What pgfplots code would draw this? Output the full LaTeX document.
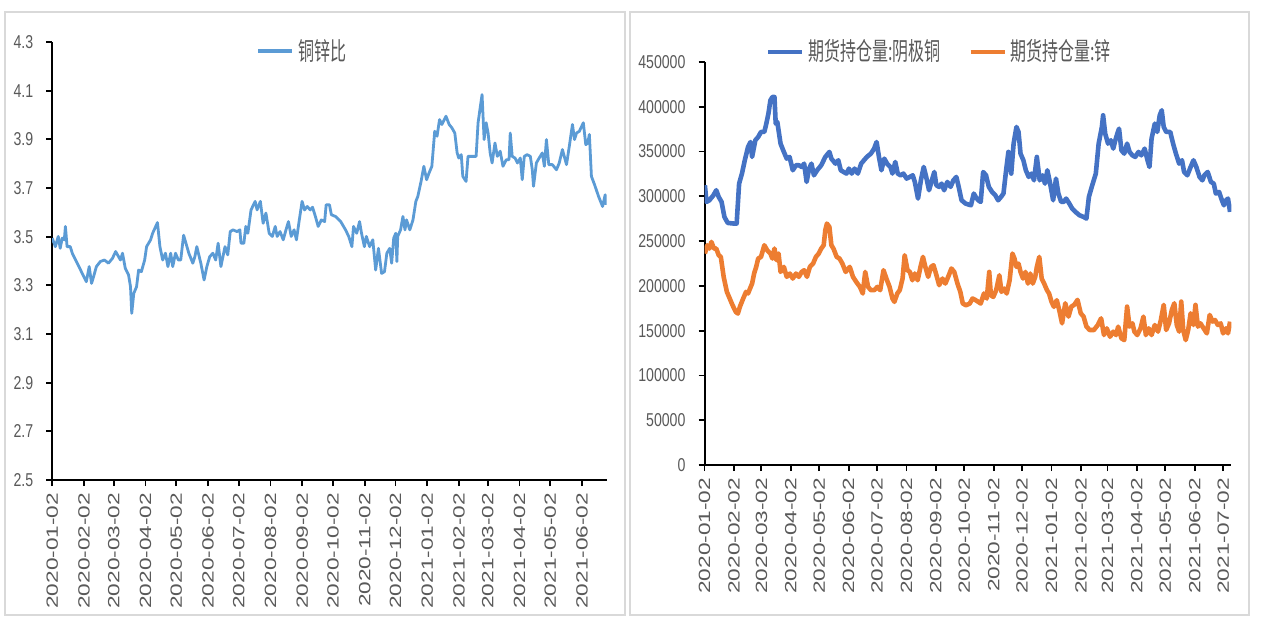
\documentclass[border=0pt]{standalone}
\usepackage{fontspec}
\setmainfont{Liberation Sans}
\newfontfamily\cjk{Noto Sans CJK SC}
\usepackage{graphicx}
\usepackage{pgfplots}
\pgfplotsset{compat=1.18}
\definecolor{cuzn}{HTML}{5B9BD5}
\definecolor{cu}{HTML}{4472C4}
\definecolor{zn}{HTML}{ED7D31}
\definecolor{lbl}{HTML}{595959}
\definecolor{panelframe}{HTML}{D9D9D9}
% the reference is squeezed sideways, so text is narrowed to match
\newcommand\xl[1]{\scalebox{1}[0.72]{#1}}
\newcommand\legtext[1]{\scalebox{0.64}[1]{\cjk #1}}

\pgfplotsset{
  panel/.style={
    scale only axis, anchor=south west,
    axis x line*=bottom, axis y line*=left,
    axis line style={-, black, line width=1bp},
    tick align=outside, major tick length=3bp,
    tick style={black, line width=0.9bp},
    x tick label style={rotate=90, anchor=east, font=\fontsize{11.3bp}{12bp}\selectfont, text=lbl},
    y tick label style={font=\fontsize{9.3bp}{10bp}\selectfont, text=lbl, xshift=-3bp},
    /pgf/number format/assume math mode=true,
    yticklabel={\scalebox{0.76}[1]{\pgfmathprintnumber{\tick}}},
    legend style={draw=none, fill=none, legend columns=-1, anchor=center,
      font=\fontsize{12.5bp}{13bp}\selectfont, text=lbl,
      /tikz/every even column/.append style={column sep=12bp}},
    legend image code/.code={\draw[#1, line width=2bp] (0,0) -- (17bp,0);},
  }
}

\begin{document}
\begin{tikzpicture}
\fill[white] (0,0) rectangle (634bp,313.5bp);
\draw[panelframe, line width=0.8bp] (2.5bp,6bp) rectangle (312.5bp,307.5bp);
\draw[panelframe, line width=0.8bp] (315bp,6bp) rectangle (624.5bp,307.5bp);

% left: copper / zinc ratio
\begin{axis}[panel,
    at={(26.1bp,73.5bp)}, width=277.25bp, height=219bp,
    xmin=0, xmax=541, ymin=2.5, ymax=4.3,
    ytick={2.5,2.7,...,4.31},
    yticklabel style={/pgf/number format/.cd, fixed, fixed zerofill, precision=1},
    xtick={0,31,60,91,121,152,182,213,244,274,305,335,366,397,425,456,486,517},
    xticklabels={\xl{2020-01-02},\xl{2020-02-02},\xl{2020-03-02},\xl{2020-04-02},\xl{2020-05-02},\xl{2020-06-02},\xl{2020-07-02},\xl{2020-08-02},\xl{2020-09-02},\xl{2020-10-02},\xl{2020-11-02},\xl{2020-12-02},\xl{2021-01-02},\xl{2021-02-02},\xl{2021-03-02},\xl{2021-04-02},\xl{2021-05-02},\xl{2021-06-02}},
    legend style={at={(0.453,0.979)}},
]
\addplot[cuzn, line width=1.4bp, line join=round] table {
0 3.494
3.1 3.459
5.9 3.501
7.8 3.452
9.8 3.494
11.8 3.487
12.9 3.542
14.5 3.459
17.6 3.459
19.6 3.432
33.3 3.315
36.1 3.377
38.4 3.308
40.4 3.336
43.1 3.377
47 3.398
51 3.404
54.9 3.391
58.8 3.411
61.9 3.439
66.6 3.404
68.6 3.432
71.3 3.370
74.5 3.343
76.4 3.294
77.6 3.185
79.6 3.267
82.3 3.294
84.3 3.363
87 3.356
90.2 3.404
92.1 3.459
96 3.487
98 3.514
102.7 3.558
105.1 3.459
107.8 3.404
110.5 3.432
112.9 3.377
115.6 3.432
117.6 3.377
120.3 3.432
123.1 3.404
125.4 3.404
128.2 3.506
130.5 3.473
133.3 3.432
137.2 3.391
139.2 3.418
141.1 3.459
145 3.391
148.2 3.322
150.9 3.377
153.7 3.418
156.8 3.432
159.5 3.404
161.9 3.473
164.6 3.377
168.6 3.459
171.3 3.425
173.7 3.521
176.4 3.528
180.3 3.521
183.1 3.528
184.2 3.473
187 3.473
188.9 3.542
190.9 3.514
194 3.610
198 3.645
199.9 3.610
203.1 3.645
205.8 3.555
208.5 3.597
211.7 3.514
214.8 3.501
217.6 3.542
219.5 3.501
222.3 3.521
225.4 3.487
228.1 3.528
230.5 3.562
233.2 3.501
236 3.528
238.3 3.487
241.1 3.569
243.8 3.645
246.2 3.610
248.9 3.624
251.7 3.610
254 3.621
256.8 3.583
259.5 3.542
262.6 3.569
265.8 3.562
267.3 3.631
270.5 3.631
272.4 3.590
276.4 3.583
281.5 3.562
286.2 3.528
289.3 3.501
292.4 3.459
294 3.542
297.1 3.514
299.9 3.562
301.8 3.514
304.6 3.459
306.5 3.501
309.7 3.459
312.8 3.487
315.6 3.363
318.3 3.452
321.4 3.349
324.2 3.356
326.5 3.432
329.3 3.452
331.2 3.391
333.2 3.494
335.2 3.514
336.3 3.398
337.1 3.501
339.9 3.528
342.2 3.583
344.2 3.528
345.7 3.569
348.9 3.528
352 3.569
354.8 3.645
356.7 3.665
359.9 3.727
362.6 3.789
365.3 3.734
367.7 3.762
370.4 3.789
373.2 3.933
375.5 3.913
377.9 3.981
380.2 3.961
384.2 3.995
387.3 3.961
390 3.947
392.8 3.926
395.1 3.844
396.7 3.823
399.1 3.837
400.6 3.748
403.8 3.727
405.7 3.830
409.6 3.830
413.6 3.830
415.5 3.968
419.4 4.084
421.4 3.899
423.4 3.968
425.3 3.926
427.3 3.844
429.2 3.803
432 3.885
434.3 3.830
437.1 3.851
439.8 3.789
443 3.816
445.7 3.816
446.9 3.926
448.8 3.830
451.6 3.823
453.9 3.803
456.7 3.823
458.6 3.734
460.6 3.830
463.3 3.837
466.5 3.830
468.4 3.775
469.6 3.707
472.4 3.803
475.1 3.823
478.2 3.844
480.2 3.789
482.2 3.899
484.5 3.796
488 3.796
492 3.775
494.7 3.803
497.8 3.858
501.8 3.796
504.5 3.871
507.6 3.961
509.6 3.899
511.6 3.926
514.3 3.933
518.2 3.968
520.6 3.878
522.5 3.885
524.1 3.920
526.1 3.748
529.2 3.713
533.1 3.665
537 3.624
539.5 3.672
540.5 3.631
};
\addlegendentry{\legtext{铜锌比}}
\end{axis}

% right: futures open interest
\begin{axis}[panel,
    at={(352.25bp,81bp)}, width=263.4bp, height=201.5bp,
    xmin=0, xmax=555.6, ymin=0, ymax=450000,
    ytick={0,50000,...,450000}, scaled y ticks=false,
    yticklabel style={/pgf/number format/.cd, fixed, 1000 sep={}},
    xtick={0,31,60,91,121,152,182,213,244,274,305,335,366,397,425,456,486,517,547},
    xticklabels={\xl{2020-01-02},\xl{2020-02-02},\xl{2020-03-02},\xl{2020-04-02},\xl{2020-05-02},\xl{2020-06-02},\xl{2020-07-02},\xl{2020-08-02},\xl{2020-09-02},\xl{2020-10-02},\xl{2020-11-02},\xl{2020-12-02},\xl{2021-01-02},\xl{2021-02-02},\xl{2021-03-02},\xl{2021-04-02},\xl{2021-05-02},\xl{2021-06-02},\xl{2021-07-02}},
    legend style={at={(0.448,1.025)}},
]
\addplot[cu, line width=2.3bp, line join=round] table {
0.4 312400
2.1 293800
5.1 295600
9.4 301200
12.4 306800
15.0 299300
18.0 293800
21.0 277000
24.5 270300
30.9 269600
33.9 269600
36.5 314200
39.5 325400
42.5 340300
45.9 355100
48.5 360700
50.2 344000
53.6 362600
56.6 366300
59.6 371900
63.1 371900
65.2 381200
67.4 392300
69.5 407200
71.6 410900
73.8 410900
75.1 381200
76.8 383000
80.2 358900
83.7 349600
86.7 342100
89.7 344000
93.1 329100
96.5 334700
99.5 334700
102.5 332800
105.1 336500
107.7 316100
110.3 331000
112.8 336500
115.4 323500
118.8 329100
123.1 334700
127.4 344000
131.7 349600
133.8 342100
138.1 336500
141.1 340300
143.7 329100
146.7 327200
149.7 325400
152.3 331000
155.3 325400
158.3 331000
161.7 325400
165.2 336500
168.2 340300
171.2 344000
175.5 347700
178.9 353300
181.5 360700
184.0 344000
186.6 329100
189.6 342100
192.6 336500
196.1 332800
198.2 325400
201.2 338400
203.8 325400
206.8 323500
209.8 325400
213.2 319800
216.6 321700
219.6 323500
221.8 316100
225.2 297500
228.2 317900
231.2 332800
233.8 321700
236.8 306800
239.8 317900
242.4 327200
244.5 312400
247.5 310500
250.1 314200
252.7 306800
256.1 316100
259.5 310500
262.5 317900
265.6 321700
268.1 310500
271.1 295600
275.4 291900
281.0 290000
284.0 303100
286.1 299300
288.7 295600
291.3 293800
293.9 327200
296.9 323500
299.9 310500
303.3 304900
306.7 301200
309.7 295600
312.7 299300
315.3 303100
318.3 331000
320.5 349600
323.5 325400
326.0 358900
329.0 377500
331.2 371900
333.3 347700
336.3 340300
338.9 329100
341.9 321700
344.9 325400
347.5 317900
350.5 344000
353.5 317900
356.5 323500
359.1 314200
361.6 329100
364.2 316100
367.7 295600
370.7 319800
373.2 303100
376.2 293800
378.8 293800
381.4 297500
384.8 291900
387.8 286300
391.2 282600
395.5 278900
399.8 277000
402.8 275200
405.4 299300
408.4 310500
412.7 325400
415.7 358900
419.1 377500
420.4 390500
422.6 370000
425.6 358900
428.6 362600
431.1 353300
433.3 362600
435.4 370000
437.2 375600
439.7 351400
442.7 347700
445.7 358900
448.3 349600
451.3 345800
454.3 344000
457.7 349600
460.7 345800
464.2 353300
467.2 340300
469.3 332800
471.5 364400
474.9 381200
477.5 371900
480.1 390500
482.2 396100
484.3 377500
486.9 371900
491.2 371900
494.2 358900
497.2 347700
500.6 336500
503.6 340300
505.8 327200
509.2 323500
512.7 332800
515.7 340300
518.7 332800
522.1 321700
525.1 317900
527.2 323500
530.7 327200
534.1 316100
537.1 314200
539.3 303100
542.7 304900
545.7 295600
547.8 290000
550.0 295600
552.1 297500
554.3 282600
};
\addlegendentry{\legtext{期货持仓量:阴极铜}}
\addplot[zn, line width=2.3bp, line join=round] table {
0.4 236100
3.0 245400
5.1 241700
7.3 249100
9.9 241700
12.4 241700
15.0 234200
17.2 232400
20.2 210100
23.6 193300
26.6 185900
29.6 178400
33.0 171000
35.2 169100
37.3 176600
40.8 185900
43.8 193300
45.9 191500
48.0 197000
50.2 202600
52.3 213800
54.5 221200
56.6 230500
59.6 232400
63.1 245400
66.1 239800
69.5 236100
71.6 230500
73.8 241700
75.9 228700
78.1 236100
80.2 215600
83.7 221200
86.7 210100
90.1 213800
93.1 208200
96.5 213800
99.5 210100
102.5 215600
105.1 217500
108.1 210100
111.1 221200
114.5 224900
117.5 232400
120.5 236100
123.1 241700
125.7 245400
127.4 262100
129.1 269600
131.7 265900
133.8 245400
136.0 241700
139.4 232400
142.4 230500
145.4 224900
148.9 215600
153.2 221200
156.6 210100
160.0 204500
163.9 198900
166.9 191500
169.5 215600
172.5 198900
175.5 195200
178.9 195200
182.3 198900
185.3 195200
188.8 217500
191.8 208200
195.2 198900
198.2 185900
200.3 182200
203.3 191500
205.9 195200
208.9 208200
211.1 234200
214.1 217500
216.6 215600
219.2 206300
221.8 213800
224.8 206300
227.8 221200
230.4 232400
232.9 221200
235.9 210100
238.9 221200
241.5 223100
244.1 213800
247.5 200800
251.0 208200
254.0 202600
257.0 210100
260.4 219400
263.4 215600
266.8 202600
269.8 193300
272.4 180300
275.8 178400
279.7 180300
282.7 185900
286.1 184000
288.7 182200
291.3 180300
294.7 191500
297.7 185900
300.3 215600
302.0 189600
304.6 187700
307.6 195200
311.0 211900
313.2 193300
316.2 197000
318.7 191500
321.8 206300
324.8 236100
326.9 230500
329.0 221200
331.2 224900
333.3 215600
335.9 208200
338.5 215600
341.1 202600
343.6 213800
346.2 202600
348.8 210100
350.5 221200
353.1 232400
355.6 208200
358.2 202600
361.2 195200
363.4 191500
366.0 182200
368.5 176600
371.5 184000
374.1 173200
377.1 158200
380.5 180600
383.9 165700
386.9 176900
389.9 178800
393.4 184400
396.8 169400
399.8 165700
402.8 154500
406.3 150700
410.6 150700
414.8 156300
418.3 163800
421.3 145100
424.3 152600
427.7 143200
431.1 148900
434.1 145100
436.3 154500
439.7 141400
442.7 139500
445.7 176900
448.3 154500
451.3 158200
453.4 148900
456.4 145100
459.9 152600
462.9 165700
465.5 145100
468.5 152600
471.5 145100
474.9 156300
478.3 148900
481.3 161900
484.3 178800
486.9 150700
489.9 158200
492.9 173200
495.5 180600
498.1 156300
500.6 148900
502.8 182500
504.9 150700
507.5 139500
510.1 150700
512.7 169400
515.7 156300
517.8 178800
520.4 154500
523.0 158200
526.4 152600
529.8 147000
532.8 167600
535.8 160100
538.4 161900
541.4 156300
544.4 158200
546.9 147000
549.9 152600
552.1 147000
554.3 160100
};
\addlegendentry{\legtext{期货持仓量:锌}}
\end{axis}
\end{tikzpicture}
\end{document}
